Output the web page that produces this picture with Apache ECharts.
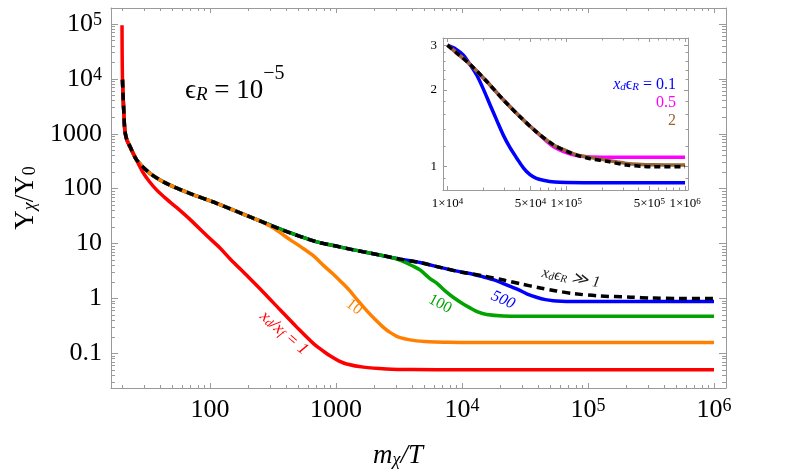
<!DOCTYPE html>
<html><head><meta charset="utf-8">
<script src="https://cdn.jsdelivr.net/npm/echarts@6/dist/echarts.min.js"></script>
<style>html,body{margin:0;padding:0;background:#fff}#c{width:789px;height:476px}</style>
</head><body><div id="c"></div>
<script>
// ---------------- DATA ----------------
// main plot: x = m_chi/T, y = Y_chi/Y_0
const redX = [20.03, 20.08, 20.2, 20.45, 20.75, 21.1, 21.8, 23.2, 24.6, 26.5, 29.5, 33, 37.8, 45, 54.5, 70, 94, 120, 144, 200, 265, 360, 488, 660, 800, 896, 1050, 1215, 1650, 2520, 4000, 10000, 100000, 1000000];
const redY = [95000, 30000, 9700, 4500, 2200, 1150, 790, 565, 440, 310, 195, 135, 94, 65, 45, 27, 14, 8.3, 5.3, 2.5, 1.3, 0.62, 0.3, 0.152, 0.108, 0.09, 0.073, 0.064, 0.056, 0.052, 0.0505, 0.05, 0.05, 0.05];

const orangeX = [20.2, 20.45, 20.75, 21.1, 21.8, 23.2, 26.2, 33.4, 45, 69, 113, 208, 250, 300, 360, 431, 530, 660, 795, 930, 1100, 1280, 1470, 1730, 2030, 2330, 2620, 3100, 4110, 5500, 8000, 10000, 100000, 1000000];
const orangeY = [9700, 4500, 2200, 1150, 800, 585, 333, 190, 125, 82, 54, 30.6, 25.6, 20.8, 15.8, 11.8, 8.6, 6.0, 4.0, 2.9, 2.0, 1.4, 0.95, 0.62, 0.42, 0.31, 0.25, 0.2, 0.172, 0.162, 0.159, 0.158, 0.158, 0.158];

const greenX = [20.2, 20.45, 20.75, 21.1, 21.8, 23.2, 26.2, 33.4, 45, 69, 113, 208, 380, 703, 1000, 1290, 1800, 2370, 2850, 3400, 4110, 4640, 5570, 6300, 7550, 8500, 10000, 11500, 13500, 15700, 21300, 30000, 100000, 1000000];
const greenY = [9700, 4500, 2200, 1150, 800, 585, 333, 190, 125, 82, 54, 30.6, 17.5, 10.7, 9.0, 7.9, 6.8, 6.0, 5.45, 4.75, 3.85, 3.3, 2.3, 1.9, 1.3, 1.05, 0.82, 0.68, 0.56, 0.51, 0.48, 0.475, 0.475, 0.475];

const blueX = [20.2, 20.45, 20.75, 21.1, 21.8, 23.2, 26.2, 33.4, 45, 69, 113, 208, 380, 703, 1000, 1290, 1800, 2370, 3220, 4640, 7000, 10000, 12000, 14000, 17700, 21300, 25000, 28800, 33000, 39000, 46000, 53000, 62000, 72000, 100000, 1000000];
const blueY = [9700, 4500, 2200, 1150, 800, 585, 333, 190, 125, 82, 54, 30.6, 17.5, 10.7, 9.0, 7.9, 6.8, 6.0, 5.2, 4.5, 3.6, 3.0, 2.79, 2.55, 2.2, 1.86, 1.6, 1.4, 1.2, 1.05, 0.95, 0.91, 0.89, 0.88, 0.877, 0.877];

const dashX = [20.2, 20.45, 20.75, 21.1, 21.8, 23.2, 26.2, 33.4, 45, 69, 113, 208, 380, 703, 1000, 1290, 1800, 2370, 3220, 4640, 7000, 10000, 15500, 21400, 29500, 40800, 56000, 77700, 122000, 219000, 320000, 540000, 1000000];
const dashY = [9700, 4500, 2200, 1150, 800, 585, 333, 190, 125, 82, 54, 30.6, 17.5, 10.7, 9.0, 7.9, 6.8, 6.0, 5.2, 4.5, 3.6, 3.0, 2.52, 2.16, 1.83, 1.57, 1.37, 1.22, 1.11, 1.055, 1.015, 1.0, 1.0];

// inset: 1e4 .. 1e6
const inBlueX = [10000, 11700, 13600, 15600, 17600, 20000, 22800, 26000, 29500, 33500, 38300, 43500, 49500, 56000, 64000, 80000, 100000, 200000, 1000000];
const inBlueY = [3.0, 2.9, 2.74, 2.5, 2.29, 2.02, 1.75, 1.52, 1.33, 1.19, 1.08, 0.99, 0.93, 0.9, 0.885, 0.87, 0.866, 0.865, 0.865];

const inMagX = [10000, 12000, 15500, 21400, 29500, 40800, 56000, 77700, 100000, 122000, 150000, 200000, 1000000];
const inMagY = [3.0, 2.79, 2.52, 2.16, 1.83, 1.57, 1.37, 1.2, 1.135, 1.105, 1.093, 1.09, 1.09];

const inBrownX = [10000, 12000, 15500, 21400, 29500, 40800, 56000, 77700, 100000, 122000, 160000, 219000, 320000, 540000, 1000000];
const inBrownY = [3.0, 2.79, 2.52, 2.16, 1.83, 1.57, 1.37, 1.22, 1.155, 1.115, 1.085, 1.06, 1.03, 1.017, 1.015];

const inDashX = [10000, 12000, 15500, 21400, 29500, 40800, 56000, 77700, 100000, 122000, 160000, 219000, 320000, 450000, 540000, 1000000];
const inDashY = [3.0, 2.79, 2.52, 2.16, 1.83, 1.57, 1.37, 1.22, 1.15, 1.11, 1.075, 1.05, 1.015, 1.003, 1.0, 1.0];

// tick values / labels
const mainXTicks = [100, 1000, 10000, 100000, 1000000];
const mainXLabels = ['100', '1000', '10^4', '10^5', '10^6'];
const mainYTicks = [0.1, 1, 10, 100, 1000, 10000, 100000];
const mainYLabels = ['0.1', '1', '10', '100', '1000', '10^4', '10^5'];
const insetXTicks = [10000, 50000, 100000, 500000, 1000000];
const insetXLabels = ['1×10^4', '5×10^4', '1×10^5', '5×10^5', '1×10^6'];
const insetYTicks = [1, 2, 3];
const insetYLabels = ['1', '2', '3'];
const insetYMinor = [0.9, 1.2, 1.4, 1.6, 1.8, 2.2, 2.4, 2.6, 2.8];

// ---------------- CHART ----------------
const FONT = '"Liberation Serif","Times New Roman",serif';
const GRAY = '#9a9a9a';

function minorLog(fromExp, toExp) {
  const out = [];
  for (let e = fromExp; e <= toExp; e++) for (let m = 2; m <= 9; m++) out.push(m * Math.pow(10, e));
  return out;
}
const inXMinor = minorLog(4, 5).filter(v => v !== 50000 && v !== 500000);

function findLabel(ticks, labels, v) {
  for (let i = 0; i < ticks.length; i++) {
    if (Math.abs(Math.log10(v / ticks[i])) < 0.01) return labels[i];
  }
  for (let i = 0; i < ticks.length; i++) {
    if (Math.abs(Math.pow(10, v) / ticks[i] - 1) < 0.02) return labels[i];
  }
  return '';
}
function toRich(lbl, b, s) {
  const p = lbl.split('^');
  return p.length > 1 ? '{' + b + '|' + p[0] + '}{' + s + '|' + p[1] + '}' : '{' + b + '|' + lbl + '}';
}
const richMain = {
  b: { fontFamily: FONT, fontSize: 26, lineHeight: 26, color: '#000', verticalAlign: 'middle' },
  s: { fontFamily: FONT, fontSize: 18, lineHeight: 8, color: '#000', verticalAlign: 'top' }
};
const richInset = {
  b: { fontFamily: FONT, fontSize: 13, lineHeight: 13, color: '#000', verticalAlign: 'middle' },
  s: { fontFamily: FONT, fontSize: 9, lineHeight: 4, color: '#000', verticalAlign: 'top' }
};

function mkAxis(o) {
  return {
    type: 'log', logBase: 10, gridIndex: o.grid, position: o.pos, min: o.min, max: o.max,
    axisLine: { show: !!o.line, onZero: false, lineStyle: { color: GRAY, width: 1 } },
    axisTick: { show: true, inside: true, length: o.len, customValues: o.ticks, lineStyle: { color: GRAY, width: 1 } },
    axisLabel: o.labels ? {
      show: true, customValues: o.ticks, margin: o.margin, hideOverlap: false,
      formatter: v => toRich(findLabel(o.ticks, o.labels, v), 'b', 's'), rich: o.rich
    } : { show: false },
    splitLine: { show: false }, minorTick: { show: false }, minorSplitLine: { show: false }, silent: true
  };
}

const MX = [16.378, 1245200], MY = [0.02333, 195700];
const IX = [9162, 1059000], IY = [0.81, 3.199];
const mainXMinor = minorLog(1, 5), mainYMinor = minorLog(-2, 5);

const xAxis = [
  mkAxis({ grid: 0, pos: 'bottom', min: MX[0], max: MX[1], line: true, len: 5, ticks: mainXTicks, labels: mainXLabels, margin: 9, rich: richMain }),
  mkAxis({ grid: 0, pos: 'bottom', min: MX[0], max: MX[1], len: 3, ticks: mainXMinor }),
  mkAxis({ grid: 0, pos: 'top', min: MX[0], max: MX[1], line: true, len: 5, ticks: mainXTicks }),
  mkAxis({ grid: 0, pos: 'top', min: MX[0], max: MX[1], len: 3, ticks: mainXMinor }),
  mkAxis({ grid: 1, pos: 'bottom', min: IX[0], max: IX[1], line: true, len: 4, ticks: insetXTicks, labels: insetXLabels, margin: 7, rich: richInset }),
  mkAxis({ grid: 1, pos: 'bottom', min: IX[0], max: IX[1], len: 2.5, ticks: inXMinor }),
  mkAxis({ grid: 1, pos: 'top', min: IX[0], max: IX[1], line: true, len: 4, ticks: insetXTicks }),
  mkAxis({ grid: 1, pos: 'top', min: IX[0], max: IX[1], len: 2.5, ticks: inXMinor })
];
const yAxis = [
  mkAxis({ grid: 0, pos: 'left', min: MY[0], max: MY[1], line: true, len: 7, ticks: mainYTicks, labels: mainYLabels, margin: 9, rich: richMain }),
  mkAxis({ grid: 0, pos: 'left', min: MY[0], max: MY[1], len: 4, ticks: mainYMinor }),
  mkAxis({ grid: 0, pos: 'right', min: MY[0], max: MY[1], line: true, len: 7, ticks: mainYTicks }),
  mkAxis({ grid: 0, pos: 'right', min: MY[0], max: MY[1], len: 4, ticks: mainYMinor }),
  mkAxis({ grid: 1, pos: 'left', min: IY[0], max: IY[1], line: true, len: 4, ticks: insetYTicks, labels: insetYLabels, margin: 6, rich: richInset }),
  mkAxis({ grid: 1, pos: 'left', min: IY[0], max: IY[1], len: 2.5, ticks: insetYMinor }),
  mkAxis({ grid: 1, pos: 'right', min: IY[0], max: IY[1], line: true, len: 4, ticks: insetYTicks }),
  mkAxis({ grid: 1, pos: 'right', min: IY[0], max: IY[1], len: 2.5, ticks: insetYMinor })
];

function zip(xs, ys) { return xs.map((x, i) => [x, ys[i]]); }
function line(name, xs, ys, color, grid, width, dash) {
  return {
    type: 'line', name: name, xAxisIndex: grid * 4, yAxisIndex: grid * 4,
    data: zip(xs, ys), showSymbol: false, symbol: 'none', smooth: 0.3,
    lineStyle: { color: color, width: width, type: dash || 'solid', cap: 'butt', join: 'round' },
    silent: true, animation: false
  };
}

const series = [
  line('500', blueX, blueY, '#0000ff', 0, 3.5),
  line('100', greenX, greenY, '#00a300', 0, 3.5),
  line('10', orangeX, orangeY, '#ff8000', 0, 3.5),
  line('1', redX, redY, '#ff0000', 0, 3.5),
  line('>>1', dashX, dashY, '#000000', 0, 3.5, [8, 5]),
  line('0.1', inBlueX, inBlueY, '#0000ff', 1, 3.5),
  line('0.5', inMagX, inMagY, '#ff00ff', 1, 3.5),
  line('2', inBrownX, inBrownY, '#996633', 1, 3.5),
  line('inset >>1', inDashX, inDashY, '#000000', 1, 3.5, [6, 4])
];

function txt(x, y, rot, text, rich, align) {
  return { type: 'text', x: x, y: y, rotation: rot, z: 100,
    style: { text: text, rich: rich, align: align || 'center', verticalAlign: 'middle' } };
}
const itl = (size, color) => ({ fontFamily: FONT, fontStyle: 'italic', fontSize: size, fill: color, lineHeight: size, verticalAlign: 'middle' });
const sub = (size, color, lh) => ({ fontFamily: FONT, fontStyle: 'italic', fontSize: size, fill: color, lineHeight: lh, verticalAlign: 'bottom' });
const rom = (size, color) => ({ fontFamily: FONT, fontSize: size, fill: color, lineHeight: size, verticalAlign: 'middle' });

const graphic = [
  // axis titles
  txt(26, 198, Math.PI / 2, '{a|Y}{s|χ}{a|/Y}{r|0}', {
    a: rom(27, '#000'), s: sub(18, '#000', 8), r: Object.assign(rom(18, '#000'), { lineHeight: 8, verticalAlign: 'bottom' })
  }),
  txt(398, 456, 0, '{a|m}{s|χ}{a|/T}', { a: itl(27, '#000'), s: sub(18, '#000', 8) }),
  // epsilon_R = 10^-5
  { type: 'text', x: 185, y: 64, z: 100, style: { align: 'left', verticalAlign: 'top',
    text: '{a|ϵ}{r|R}{a| = 10}{p|−5}',
    rich: {
      a: { fontFamily: FONT, fontSize: 27, lineHeight: 40, verticalAlign: 'bottom', fill: '#000' },
      r: { fontFamily: FONT, fontStyle: 'italic', fontSize: 19, lineHeight: 25, verticalAlign: 'bottom', fill: '#000' },
      p: { fontFamily: FONT, fontSize: 20, lineHeight: 7, verticalAlign: 'top', fill: '#000' }
    } } },
  // curve labels
  txt(284, 333, -0.71, '{a|x}{s|d}{a|/x}{s|f}{n| = 1}', { a: itl(17, '#ff0000'), s: sub(12, '#ff0000', 6), n: itl(17, '#ff0000') }),
  txt(354, 307, -0.66, '{a|10}', { a: rom(16, '#ff8000') }),
  txt(440, 304, -0.5, '{a|100}', { a: rom(16, '#00a300') }),
  txt(503, 300, -0.42, '{a|500}', { a: itl(16, '#0000ff') }),
  txt(571, 278, -0.18, '{a|x}{s|d}{e|ϵ}{s|R}{n| ≫ 1}', { a: itl(16, '#222'), s: sub(11, '#222', 6), e: itl(16, '#222'), n: itl(16, '#222') }),
  // inset legend
  txt(676, 85, 0, '{a|x}{s|d}{e|ϵ}{s|R}{n| = 0.1}', { a: itl(16, '#0000ff'), s: sub(11, '#0000ff', 5), e: rom(16, '#0000ff'), n: rom(16, '#0000ff') }, 'right'),
  txt(676, 103, 0, '{n|0.5}', { n: rom(16, '#ff00ff') }, 'right'),
  txt(676, 121, 0, '{n|2}', { n: rom(16, '#996633') }, 'right')
];

const chart = echarts.init(document.getElementById('c'), null, { renderer: 'canvas' });
chart.setOption({
  animation: false,
  backgroundColor: '#ffffff',
  grid: [
    { left: 111, top: 8, width: 615, height: 380, containLabel: false, outerBoundsMode: 'none' },
    { left: 443, top: 38, width: 245, height: 152, containLabel: false, outerBoundsMode: 'none', show: true, backgroundColor: '#ffffff', borderWidth: 0 }
  ],
  xAxis: xAxis,
  yAxis: yAxis,
  series: series,
  graphic: graphic
});
</script>
</body></html>
